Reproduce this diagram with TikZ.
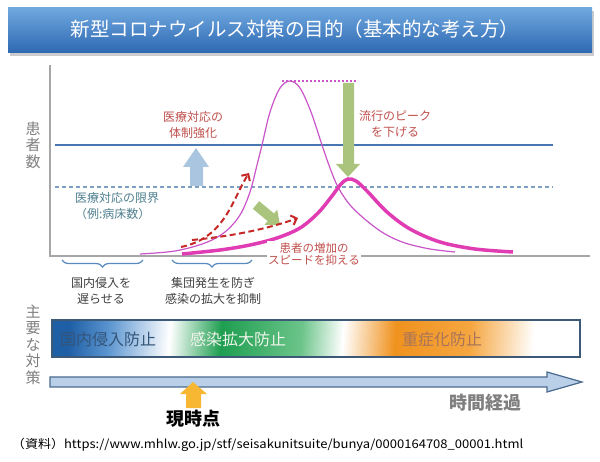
\documentclass[tikz,border=0pt]{standalone}
\usepackage{fontspec}
\setmainfont{Noto Sans CJK JP}
\usetikzlibrary{decorations.pathreplacing,arrows.meta}
\definecolor{tbtop}{HTML}{6FA8DF}
\definecolor{tbbot}{HTML}{2D68B2}
\definecolor{axisgray}{HTML}{A6A6A6}
\definecolor{limblue}{HTML}{4677B0}
\definecolor{dashblue}{HTML}{7C9FC2}
\definecolor{redtext}{HTML}{C0504D}
\definecolor{tealtext}{HTML}{4F7F8F}
\definecolor{magthin}{HTML}{C955C9}
\definecolor{magthick}{HTML}{E03CB4}
\definecolor{dashred}{HTML}{C62828}
\definecolor{arrowblue}{HTML}{A9C5E0}
\definecolor{arrowgreen}{HTML}{AAC47E}
\definecolor{bracecol}{HTML}{5B8AC0}
\definecolor{labgray}{HTML}{7F7F7F}
\definecolor{darktext}{HTML}{404040}
\definecolor{bb1}{HTML}{1F5FA6}
\definecolor{bb2}{HTML}{5B95D0}
\definecolor{bg1}{HTML}{1E9E50}
\definecolor{bg2}{HTML}{6CC48A}
\definecolor{bo1}{HTML}{F0921E}
\definecolor{bo2}{HTML}{F5A640}
\definecolor{bardraw}{HTML}{3C5A78}
\definecolor{timefill}{HTML}{B9D0E8}
\definecolor{timedraw}{HTML}{4A6A90}
\definecolor{nowfill}{HTML}{F7B733}
\definecolor{bartxtb}{HTML}{34557A}
\definecolor{bartxtg}{HTML}{EEF4EA}
\definecolor{bartxto}{HTML}{A8745A}
\pgfdeclarehorizontalshading{barshade}{100bp}{color(0bp)=(bb1); color(25bp)=(bb1); color(29bp)=(bb2); color(35.2bp)=(white); color(40.4bp)=(bg1); color(48.5bp)=(bg2); color(52.7bp)=(white); color(58bp)=(bo1); color(65.5bp)=(bo2); color(72bp)=(white); color(100bp)=(white)}
\tikzset{
  txt/.style={inner sep=0pt, outer sep=0pt},
  redlab/.style={txt, text=redtext, font=\fontsize{12}{15.5}\selectfont, align=center},
  bracelab/.style={txt, text=darktext, font=\fontsize{12}{16}\selectfont, align=center},
  vlab/.style={txt, text=labgray, font=\fontsize{15}{16.5}\selectfont, align=center},
  bartxt/.style={txt, font=\fontsize{16}{16}\selectfont},
  axisline/.style={draw=axisgray, line width=1.5pt},
  bracestyle/.style={draw=bracecol, line width=1.2pt, decorate, decoration={brace, amplitude=7pt}},
  reddash/.style={draw=dashred, line width=2pt, dash pattern=on 6pt off 3.5pt, -{Straight Barb[length=5pt,width=10pt]}},
}
\begin{document}
\begin{tikzpicture}[x=1pt,y=-1pt]
\useasboundingbox (0,0) rectangle (600,462);
\fill[white] (0,0) rectangle (600,462);
% title bar
\fill[black!20] (10,11) rectangle (594,56);
\shade[top color=tbtop, bottom color=tbbot] (8,8) rectangle (592,53);
\node[txt, text=white, font=\fontsize{19.5}{19.5}\selectfont] (title) at (295,29) {新型コロナウイルス対策の目的（基本的な考え方）};
% axes
\coordinate (ax0) at (50,65);
\coordinate (axo) at (50,256);
\coordinate (ax1) at (590,256);
\draw[axisline] (ax0) -- (axo) -- (ax1);
\node[vlab] (ylab) at (33,145) {患\\者\\数};
% capacity lines
\coordinate (bl0) at (55,145);
\coordinate (bl1) at (553,145);
\draw[limblue, line width=2.5pt] (bl0) -- (bl1);
\coordinate (dl0) at (55,187);
\coordinate (dl1) at (553,187);
\draw[dashblue, line width=1.5pt, dash pattern=on 4pt off 3pt] (dl0) -- (dl1);
\node[txt, text=tealtext, font=\fontsize{12}{16.5}\selectfont, align=left, anchor=west] (limit) at (75,206) {医療対応の限界\\（例:病床数）};
% blue up arrow
\fill[arrowblue] (190,186) -- (190,167) -- (183,167) -- (196,148) -- (209,167) -- (203,167) -- (203,186) -- cycle;
\node[redlab] (strengthen) at (193,125) {医療対応の\\体制強化};
% dotted peak line
\coordinate (pk0) at (282,81);
\coordinate (pk1) at (358,81);
\draw[magthin, line width=1.2pt, dash pattern=on 2pt off 2pt] (pk0) -- (pk1);
% curves
\draw[magthin, line width=1.2pt] plot[smooth, tension=0.55] coordinates {(140,254) (175,251) (205,243) (225,232) (240,215) (250,192) (257,165) (262,145) (270,112) (280,88) (290,81) (300,88) (311,112) (322,145) (330,168) (338,187) (350,205) (367,221) (385,234) (405,243) (430,249) (455,252)};
\draw[magthick, line width=3.5pt] plot[smooth, tension=0.55] coordinates {(182,254) (220,250) (250,245) (277,238) (300,228) (318,213) (332,196) (341,184) (348,179) (356,181) (367,191) (387,212) (410,229) (440,242) (475,249) (513,252)};
% green down arrow
\fill[arrowgreen] (343,83) -- (354,83) -- (354,164) -- (360,164) -- (348,177) -- (336,164) -- (343,164) -- cycle;
\node[redlab] (lower) at (395,124) {流行のピーク\\を下げる};
% green diagonal arrow
\fill[arrowgreen] (252.8,208.8) -- (267.6,221.1) -- (264.4,225.0) -- (280,225) -- (277.2,209.6) -- (274.0,213.5) -- (259.2,201.2) -- cycle;
% red dashed arrows
\coordinate (a1s) at (181,247);
\coordinate (a1e) at (249,173);
\draw[reddash] (a1s) .. controls (225,238) and (232,200) .. (a1e);
\coordinate (a2s) at (192,240);
\coordinate (a2e) at (298,218);
\draw[reddash] (a2s) .. controls (235,236) and (270,228) .. (a2e);
\node[redlab, fill=white, inner sep=1pt, font=\fontsize{11.5}{12.5}\selectfont] (slow) at (314,254) {患者の増加の\\スピードを抑える};
% braces
\coordinate (b1r) at (143,260);
\coordinate (b1l) at (62,260);
\draw[bracestyle] (b1r) -- (b1l);
\coordinate (b2r) at (252,260);
\coordinate (b2l) at (172,260);
\draw[bracestyle] (b2r) -- (b2l);
\node[bracelab] (delay) at (101,291) {国内侵入を\\遅らせる};
\node[bracelab] (cluster) at (213,291) {集団発生を防ぎ\\感染の拡大を抑制};
% measures
\node[vlab] (mlab) at (33,344.5) {主\\要\\な\\対\\策};
\shade[shading=barshade, shading angle=-4] (52,320) rectangle (580,357);
\draw[bardraw, line width=1.2pt] (52,320) rectangle (580,357);
\node[bartxt, text=bartxtb] (m1) at (108,339) {国内侵入防止};
\node[bartxt, text=bartxtg] (m2) at (238,339) {感染拡大防止};
\node[bartxt, text=bartxto] (m3) at (442,339) {重症化防止};
% timeline
\filldraw[fill=timefill, draw=timedraw, line width=1.2pt] (50,377) -- (547,377) -- (547,372) -- (582,382) -- (547,392) -- (547,387) -- (50,387) -- cycle;
\node[txt, text=labgray, font=\bfseries\fontsize{18}{18}\selectfont] (elapsed) at (485,403) {時間経過};
% now arrow
\fill[nowfill] (186,408) -- (186,394) -- (180,394) -- (193,382) -- (207,394) -- (201,394) -- (201,408) -- cycle;
\node[txt, text=black, font=\bfseries\fontsize{18}{18}\selectfont] (now) at (193,419) {現時点};
% source
\node[txt, text=black, font=\fontsize{12}{12}\selectfont, anchor=west] (src) at (12,445) {\scalebox{1.085}[1]{（資料）https://www.mhlw.go.jp/stf/seisakunitsuite/bunya/0000164708\_00001.html}};
\end{tikzpicture}
\end{document}
